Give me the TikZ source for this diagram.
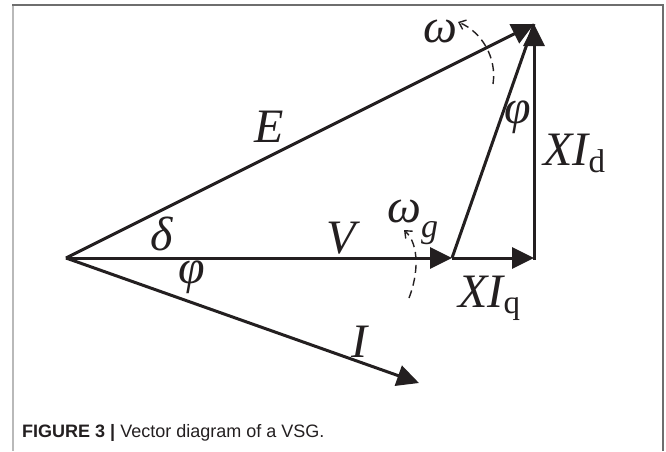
\documentclass[tikz,border=0pt]{standalone}
\usepackage{fontspec}
\setmainfont{Liberation Serif}
\setsansfont{Liberation Sans}
\usetikzlibrary{arrows.meta}
\definecolor{ink}{RGB}{35,31,32}
\definecolor{framedark}{RGB}{110,110,110}
\definecolor{framelight}{RGB}{185,185,185}
\begin{document}
\begin{tikzpicture}[x=1pt,y=-1pt,
  vec/.style={draw=ink, line width=3pt, -{Triangle[length=22pt,width=21pt]}},
  plainline/.style={draw=ink, line width=3pt},
  rot/.style={draw=ink, line width=1.4pt, dash pattern=on 8pt off 5pt, -{Straight Barb[length=6pt,width=10pt]}},
  lbl/.style={inner sep=0pt, anchor=base, text=ink, font=\fontsize{48}{56}\selectfont\itshape}]
\useasboundingbox (0,0) rectangle (666,451);
% frame
\draw[framelight, line width=2.2pt] (13,5) -- (13,451);
\draw[framedark, line width=1.6pt] (12,5) -- (663,5) -- (663,451);
% points
\coordinate (O) at (66,258);
\coordinate (Vt) at (452,258);
\coordinate (Q) at (534,258);
\coordinate (Et) at (534,24);
\coordinate (It) at (419,383);
% vectors
\draw[vec] (O) -- (Vt);
\draw[vec] (Vt) -- (Q);
\draw[vec, shorten <=-1.5pt] (Q) -- (Et);
\draw[vec] (O) -- (Et);
\draw[plainline] (Vt) -- (Et);
\draw[vec] (O) -- (It);
% rotation arrows
\coordinate (w1s) at (493,84);
\coordinate (w1e) at (458,22);
\draw[rot] (w1s) .. controls (497,58) and (482,32) .. (w1e);
\coordinate (w2s) at (409,298);
\coordinate (w2e) at (404,230);
\draw[rot] (w2s) .. controls (418,275) and (420,245) .. (w2e);
% labels
\node[lbl] (lE) at (269,142) {E};
\node[lbl] (lV) at (341,253) {V};
\node[lbl] (lI) at (359,357) {I};
\node[lbl] (ldelta) at (162,250) {δ};
\node[lbl] (lphi1) at (192,283) {φ};
\node[lbl] (lphi2) at (518,123) {φ};
\node[lbl] (lomega) at (440,42) {ω};
\node[lbl, anchor=base west] (lomegag) at (387,222) {ω\raisebox{-15pt}{\fontsize{34}{36}\selectfont g}};
\node[lbl, anchor=base west] (lXId) at (543,165) {XI\raisebox{-7pt}{\fontsize{33}{35}\selectfont\upshape d}};
\node[lbl, anchor=base west] (lXIq) at (458,307) {XI\raisebox{-6pt}{\fontsize{33}{35}\selectfont\upshape q}};
% caption
\node[anchor=base west, inner sep=0pt, text=ink, font=\sffamily\fontsize{18}{20}\selectfont] (cap) at (22,437) {\textbf{FIGURE 3 |} Vector diagram of a VSG.};
\end{tikzpicture}
\end{document}
